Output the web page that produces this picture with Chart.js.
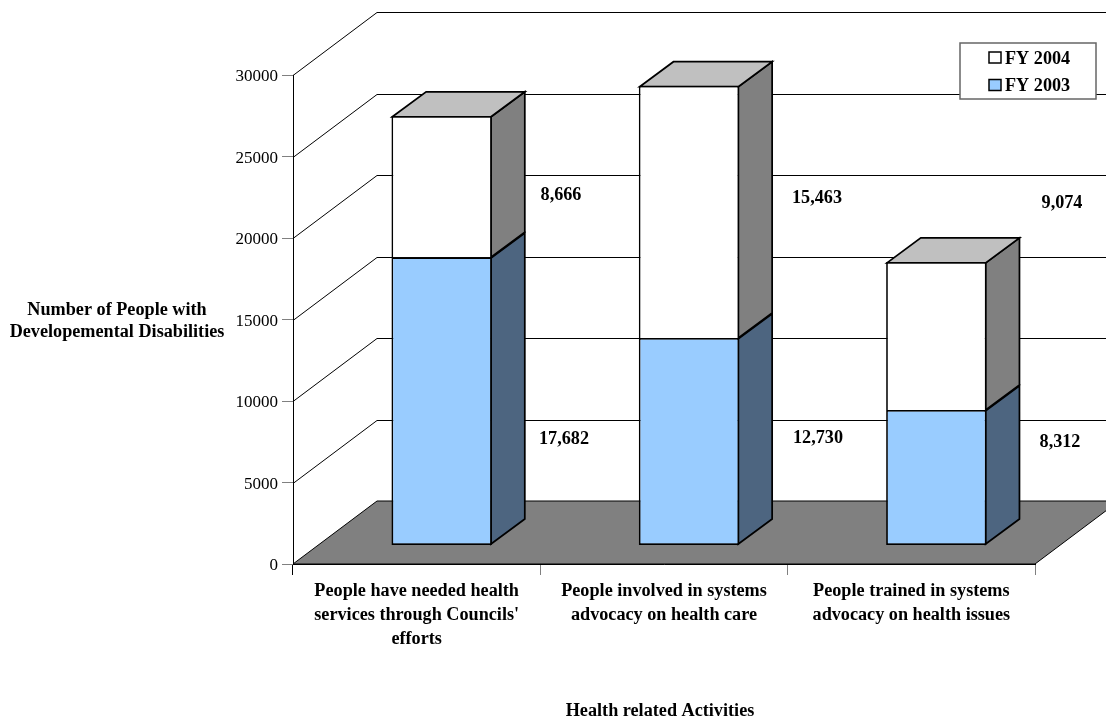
<!DOCTYPE html>
<html>
<head>
<meta charset="utf-8">
<title>Health related Activities</title>
<script src="https://cdn.jsdelivr.net/npm/chart.js@4"></script>
<style>
html, body { margin: 0; padding: 0; background: #fff; }
canvas { display: block; }
</style>
</head>
<body>
<canvas id="chart" width="1106" height="717"></canvas>
<script>
var categories = [
	["People have needed health", "services through Councils'", "efforts"],
	["People involved in systems", "advocacy on health care"],
	["People trained in systems", "advocacy on health issues"]
];
var fy2003 = [17682, 12730, 8312];
var fy2004 = [8666, 15463, 9074];
var yTicks = [0, 5000, 10000, 15000, 20000, 25000, 30000];

var yTitle = ["Number of People with", "Developemental Disabilities"];
var xTitle = "Health related Activities";

// label centres, these were placed by hand so they do not follow the bars
var labels2003 = [[564, 439], [818, 438], [1060, 442]];
var labels2004 = [[561, 195], [817, 198], [1062, 203]];

// 3d depth of the walls, bar offset from the front plane, and bar depth
var wall = { dx: 84, dy: 63 };
var shift = { dx: 25, dy: 18.6 };
var depth = { dx: 33.8, dy: 25 };
var edge = 1.75;

var serif = "'Liberation Serif', 'Times New Roman', serif";
var boldFont = "bold 18.2px " + serif;
var blue = "#99ccff", blueSide = "#4d6580";
var white = "#ffffff", whiteSide = "#808080", topFace = "#c0c0c0", floorGrey = "#808080";

function poly(ctx, pts, fill) {
	ctx.beginPath();
	ctx.moveTo(pts[0][0], pts[0][1]);
	for (var i = 1; i < pts.length; i++) ctx.lineTo(pts[i][0], pts[i][1]);
	ctx.closePath();
	if (fill) { ctx.fillStyle = fill; ctx.fill(); }
	ctx.stroke();
}

var box3d = {
	id: "box3d",
	beforeDatasetsDraw: function (chart) {
		var ctx = chart.ctx, a = chart.chartArea, y = chart.scales.y;
		ctx.save();

		// floor
		ctx.strokeStyle = "#000";
		ctx.lineWidth = 1;
		poly(ctx, [[a.left, a.bottom], [a.left + wall.dx, a.bottom - wall.dy],
			[a.right + wall.dx, a.bottom - wall.dy], [a.right, a.bottom]], floorGrey);

		// grid lines running up the side wall and along the back wall
		yTicks.forEach(function (t) {
			if (t === 0) return;
			var py = Math.round(y.getPixelForValue(t)) + 0.5;
			ctx.beginPath();
			ctx.moveTo(a.left, py);
			ctx.lineTo(a.left + wall.dx, py - wall.dy);
			ctx.lineTo(a.right + wall.dx, py - wall.dy);
			ctx.stroke();
		});

		// side and top faces of the stacks
		ctx.lineWidth = edge;
		var sides = [blueSide, whiteSide];
		chart.data.datasets.forEach(function (ds, i) {
			chart.getDatasetMeta(i).data.forEach(function (bar) {
				var r = bar.x + bar.width / 2 + shift.dx - edge / 2;
				var t = bar.y - shift.dy + edge / 2;
				var b = bar.base - shift.dy - (i === 0 ? edge / 2 : 0);
				poly(ctx, [[r, t], [r + depth.dx, t - depth.dy], [r + depth.dx, b - depth.dy], [r, b]], sides[i]);
				if (i === chart.data.datasets.length - 1) {
					var l = bar.x - bar.width / 2 + shift.dx + edge / 2;
					poly(ctx, [[l, t], [l + depth.dx, t - depth.dy], [r + depth.dx, t - depth.dy], [r, t]], topFace);
				}
			});
		});
		ctx.restore();

		// the fronts are drawn by the library, just moved in from the axis plane
		ctx.save();
		ctx.translate(shift.dx, -shift.dy);
	},
	afterDatasetsDraw: function (chart) {
		chart.ctx.restore();
	},
	afterDraw: function (chart) {
		var ctx = chart.ctx;
		ctx.save();
		ctx.fillStyle = "#000";
		ctx.textBaseline = "middle";
		ctx.textAlign = "center";
		ctx.font = boldFont;

		ctx.fillText(yTitle[0], 117, 310);
		ctx.fillText(yTitle[1], 117, 332);
		ctx.fillText(xTitle, 660, 711);

		fy2003.forEach(function (v, i) {
			ctx.fillText(v.toLocaleString("en-US"), labels2003[i][0], labels2003[i][1]);
		});
		fy2004.forEach(function (v, i) {
			ctx.fillText(v.toLocaleString("en-US"), labels2004[i][0], labels2004[i][1]);
		});

		// legend, newest year on top
		ctx.fillStyle = "#fff";
		ctx.strokeStyle = "#666";
		ctx.lineWidth = 1.5;
		ctx.fillRect(960, 43, 136, 56);
		ctx.strokeRect(960, 43, 136, 56);
		ctx.textAlign = "left";
		ctx.strokeStyle = "#000";
		var sets = chart.data.datasets;
		[sets[1], sets[0]].forEach(function (ds, i) {
			var top = 52 + i * 27.5;
			ctx.fillStyle = ds.backgroundColor;
			ctx.fillRect(989, top, 12, 11);
			ctx.strokeRect(989, top, 12, 11);
			ctx.fillStyle = "#000";
			ctx.fillText(ds.label, 1005, top + 7);
		});
		ctx.restore();
	}
};

var chart = new Chart(document.getElementById("chart"), {
	type: "bar",
	data: {
		labels: categories,
		datasets: [
			{ label: "FY 2003", data: fy2003, backgroundColor: blue, borderColor: "#000", borderWidth: edge, borderSkipped: false },
			{ label: "FY 2004", data: fy2004, backgroundColor: white, borderColor: "#000", borderWidth: edge, borderSkipped: "bottom" }
		]
	},
	options: {
		responsive: false,
		animation: false,
		clip: false,
		layout: { padding: { left: 0, top: 75, right: 71, bottom: 0 } },
		datasets: { bar: { categoryPercentage: 1, barPercentage: 0.406 } },
		plugins: { legend: { display: false }, tooltip: { enabled: false } },
		scales: {
			x: {
				stacked: true,
				afterFit: function (s) { s.height = 153; s.paddingLeft = 0; s.paddingRight = 0; },
				grid: {
					offset: true,
					drawOnChartArea: false,
					tickLength: 11,
					tickColor: function (c) { return c.index === 0 ? "#000" : "#808080"; }
				},
				border: { color: "#000" },
				ticks: {
					color: "#000",
					maxRotation: 0,
					autoSkip: false,
					padding: 4,
					font: { family: serif, size: 18.2, weight: "bold", lineHeight: 1.33 }
				}
			},
			y: {
				stacked: true,
				min: 0,
				max: 30000,
				afterFit: function (s) { s.width = 293; s.paddingTop = 0; s.paddingBottom = 0; },
				afterBuildTicks: function (s) {
					s.ticks = yTicks.map(function (v) { return { value: v }; });
				},
				grid: { drawOnChartArea: false, tickLength: 11, tickColor: "#808080" },
				border: { color: "#000" },
				ticks: {
					color: "#000",
					padding: 4,
					labelOffset: 2,
					callback: function (v) { return String(v); },
					font: { family: serif, size: 17 }
				}
			}
		}
	},
	plugins: [box3d]
});
</script>
</body>
</html>
